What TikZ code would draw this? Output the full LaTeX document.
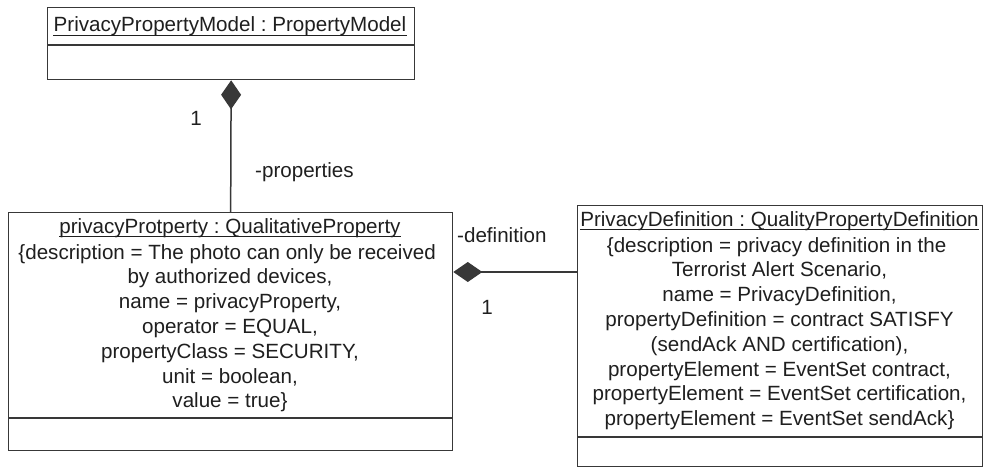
\documentclass[tikz,border=0pt]{standalone}
\usepackage{fontspec}
\setmainfont{Liberation Sans}
\usetikzlibrary{arrows.meta,calc}
\definecolor{umlink}{gray}{0.22}
\definecolor{umltext}{gray}{0.12}
\frenchspacing
\begin{document}
\begin{tikzpicture}[x=1pt,y=-1pt,
  umlbox/.style={draw=umlink, line width=1.3pt, fill=white, inner sep=0pt, anchor=north west},
  sepline/.style={draw=umlink, line width=1.3pt},
  ulabel/.style={font=\fontsize{20.6}{24.8}\selectfont, text=umltext, inner sep=0pt},
  hdr/.style={ulabel, anchor=base},
  uline/.style={draw=umltext, line width=0.9pt},
  comp/.style={draw=umlink, line width=1.5pt, {Diamond[length=29pt,width=20pt,fill=umlink]}-}
]
\useasboundingbox (0,0) rectangle (984,468);

% class boxes
\node[umlbox, minimum width=367pt, minimum height=72pt] (model) at (47,7) {};
\node[umlbox, minimum width=444pt, minimum height=238pt] (prop) at (8,212) {};
\node[umlbox, minimum width=405pt, minimum height=261pt] (def) at (577,205) {};

% compartment separators
\draw[sepline] ($(model.north west)+(0,38)$) -- ($(model.north east)+(0,38)$);
\draw[sepline] ($(prop.north west)+(0,206)$) -- ($(prop.north east)+(0,206)$);
\draw[sepline] ($(def.north west)+(0,232)$) -- ($(def.north east)+(0,232)$);

% object names (underlined)
\node[hdr] (modelhd) at (230,31.5) {PrivacyPropertyModel : PropertyModel};
\draw[uline] ($(modelhd.base west)+(0,3.5)$) -- ($(modelhd.base east)+(0,3.5)$);
\node[hdr] (prophd) at (230,233) {privacyProtperty : QualitativeProperty};
\draw[uline] ($(prophd.base west)+(0,3.5)$) -- ($(prophd.base east)+(0,3.5)$);
\node[hdr] (defhd) at (779.5,226) {PrivacyDefinition : QualityPropertyDefinition};
\draw[uline] ($(defhd.base west)+(0,3.5)$) -- ($(defhd.base east)+(0,3.5)$);

% attribute values
\node[ulabel, align=center, anchor=north] (propbody) at (230,244) {%
  \{description = The photo can only be received\hspace*{0.278em}\\
  by authorized devices,\\
  name = privacyProperty,\\
  operator = EQUAL,\\
  propertyClass = SECURITY,\\
  unit = boolean,\\
  value = true\}};
\node[ulabel, align=center, anchor=north] (defbody) at (779.5,237) {%
  \{description = privacy definition in the\hspace*{0.278em}\\
  Terrorist Alert Scenario,\\
  name = PrivacyDefinition,\\
  propertyDefinition = contract SATISFY\hspace*{0.278em}\\
  (sendAck AND certification),\\
  propertyElement = EventSet contract,\\
  propertyElement = EventSet certification,\\
  propertyElement = EventSet sendAck\}};

% composition links
\draw[comp] (model.south) -- (prop.north);
\coordinate (djoin) at ($(prop.north east)+(0,60)$);
\draw[comp] (djoin) -- (djoin -| def.west);

% role names and multiplicities
\node[ulabel] (m1) at (196,118) {1};
\node[ulabel, anchor=west] (rprops) at (255,172) {-properties};
\node[ulabel, anchor=west] (rdef) at (457,235) {-definition};
\node[ulabel] (m2) at (487,307) {1};
\end{tikzpicture}
\end{document}
